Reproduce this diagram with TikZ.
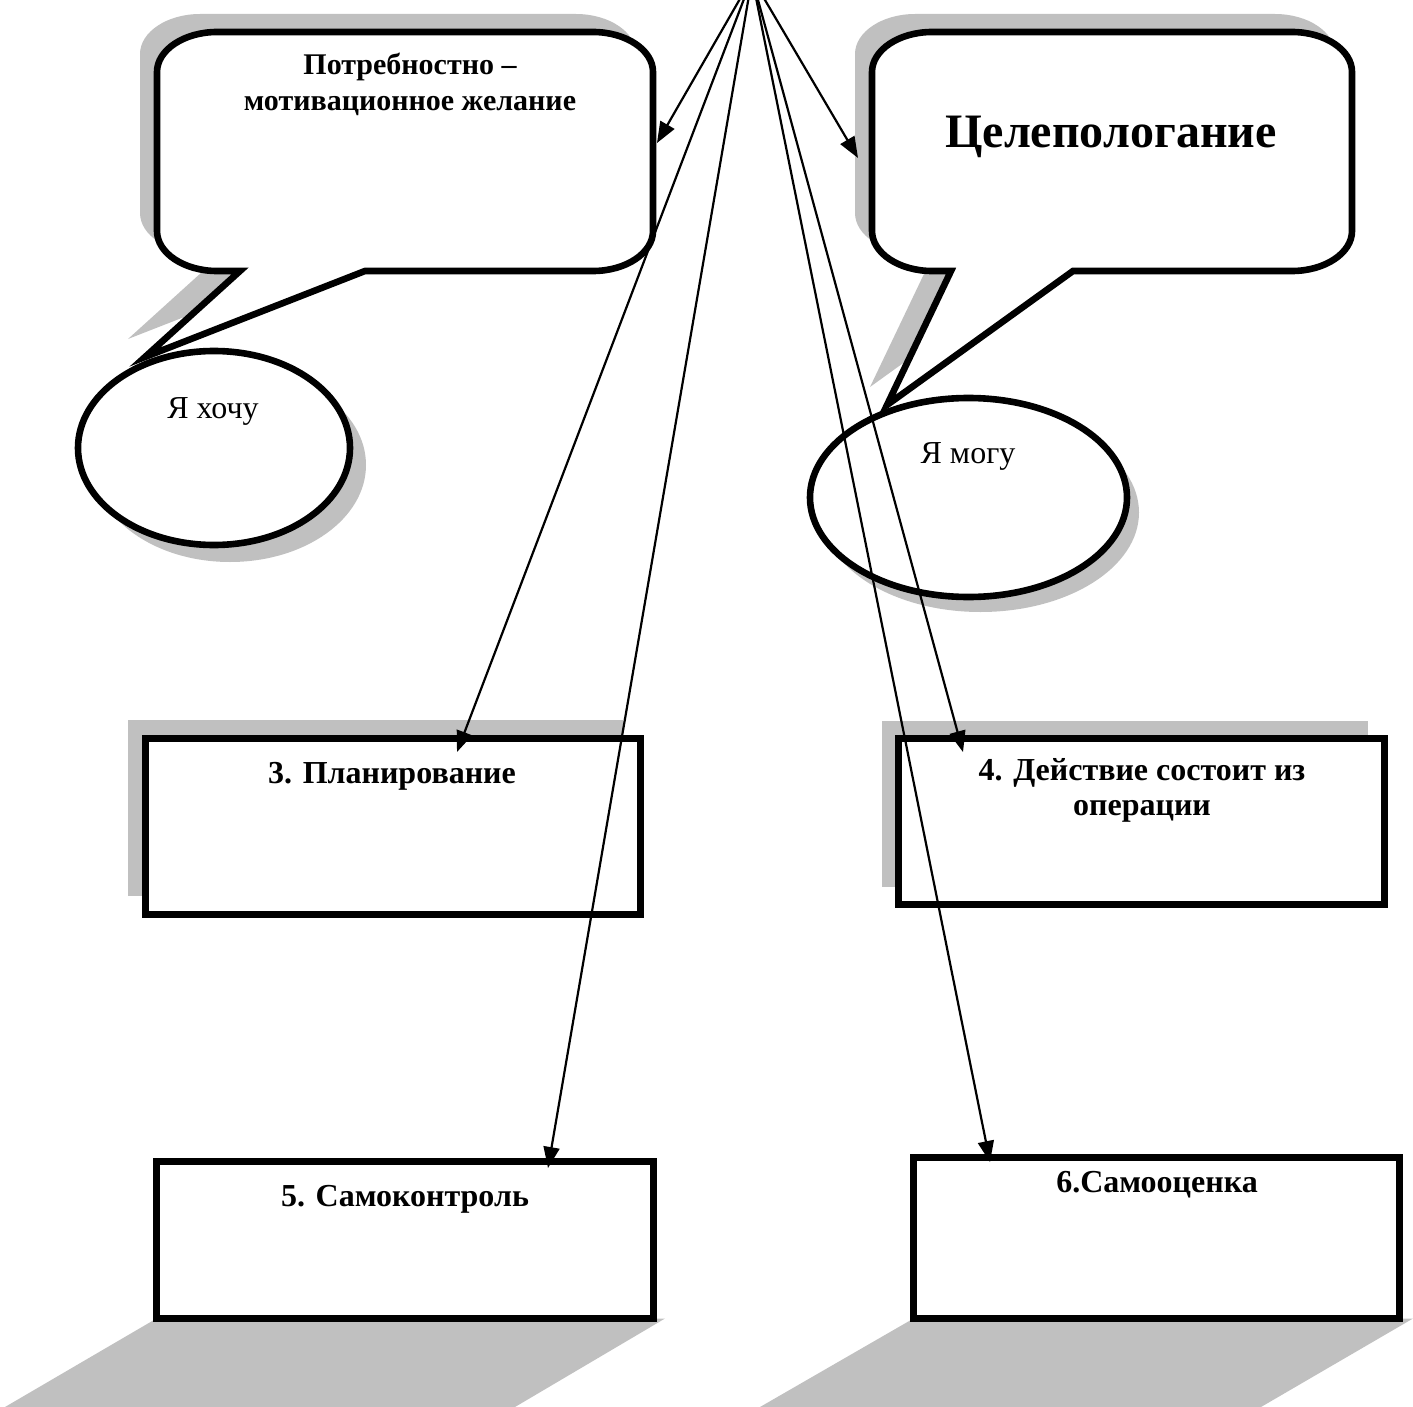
\documentclass[tikz,border=0pt]{standalone}
\usepackage{fontspec}
\setmainfont{Liberation Serif}
\usetikzlibrary{arrows.meta,shapes.geometric,shadows}
\definecolor{sgray}{HTML}{C0C0C0}
\newcommand\calloutLeft[1]{\path[#1] (157,72) -- (157,231) .. controls (157,253) and (184,271) .. (217,271) -- (240,271) -- (145,357) -- (365,271) -- (593,271) .. controls (626,271) and (653,253) .. (653,231) -- (653,72) .. controls (653,50) and (626,32) .. (593,32) -- (217,32) .. controls (184,32) and (157,50) .. (157,72) -- cycle;}
\newcommand\calloutRight[1]{\path[#1] (872,72) -- (872,231) .. controls (872,253) and (899,271) .. (932,271) -- (951,271) -- (887,405) -- (1073,271) -- (1292,271) .. controls (1325,271) and (1352,253) .. (1352,231) -- (1352,72) .. controls (1352,50) and (1325,32) .. (1292,32) -- (932,32) .. controls (899,32) and (872,50) .. (872,72) -- cycle;}
\begin{document}
\begin{tikzpicture}[x=0.5pt,y=-0.5pt,
  outl/.style={draw=black, line width=3.3pt, fill=white},
  shadowfill/.style={fill=sgray},
  boxstyle/.style={rectangle, draw=black, line width=3.5pt, fill=white, inner sep=0pt, outer sep=0pt, anchor=north west},
  ellstyle/.style={ellipse, draw=black, line width=3.3pt, fill=white, inner sep=0pt, outer sep=0pt},
  conn/.style={line width=1.1pt, -{Triangle[length=10.5pt,width=8pt]}},
  calltxt/.style={font=\bfseries\fontsize{15}{18}\selectfont, align=center, inner sep=0pt, anchor=base},
  boxtxt/.style={font=\bfseries\fontsize{16}{17.5}\selectfont, align=center, inner sep=0pt, anchor=base},
  big/.style={font=\bfseries\fontsize{24}{28}\selectfont, inner sep=0pt, anchor=base},
  plain/.style={font=\fontsize{16}{19}\selectfont, inner sep=0pt, anchor=base},
  topshadow/.style={drop shadow={fill=sgray, opacity=1, shadow xshift=-8.5pt, shadow yshift=9pt}}
]
\useasboundingbox (0,0) rectangle (1413,1407);
\clip (0,0) rectangle (1413,1407);

% ellipses
\node[ellstyle, minimum width=136pt, minimum height=97pt,
  drop shadow={fill=sgray, opacity=1, shadow xshift=8pt, shadow yshift=-8.5pt}] (elL) at (214,448) {};
\node[ellstyle, minimum width=158.5pt, minimum height=99.5pt,
  drop shadow={fill=sgray, opacity=1, shadow xshift=6pt, shadow yshift=-7.5pt}] (elR) at (968.5,497.5) {};

% callouts
\calloutLeft{shadowfill, shift={(-17,-18)}}
\calloutLeft{outl}
\calloutRight{shadowfill, shift={(-17,-18)}}
\calloutRight{outl}

% boxes
\node[boxstyle, topshadow, minimum width=247.5pt, minimum height=88pt] (b3) at (145,738) {};
\node[boxstyle, topshadow, minimum width=243pt, minimum height=83pt] (b4) at (898.5,738.5) {};
\fill[sgray] (156.5,1318.5) -- (665,1318.5) -- (515,1407) -- (5,1407) -- cycle;
\fill[sgray] (913.5,1318.5) -- (1413,1318.5) -- (1261,1407) -- (760,1407) -- cycle;
\node[boxstyle, minimum width=248.5pt, minimum height=78.5pt] (b5) at (156.5,1161.5) {};
\node[boxstyle, minimum width=243pt, minimum height=80.5pt] (b6) at (913.5,1157) {};

% texts
\node[calltxt] (tL) at (410,111) {Потребностно –\\мотивационное желание};
\node[big] (tR) at (1111,148) {Целепологание};
\node[plain] (tEL) at (213,418) {Я хочу};
\node[plain] (tER) at (968,463) {Я могу};
\node[boxtxt] (t3) at (392,783) {3. Планирование};
\node[boxtxt] (t4) at (1142,815) {4. Действие состоит из\\операции};
\node[boxtxt] (t5) at (405,1206) {5. Самоконтроль};
\node[boxtxt] (t6) at (1157,1192) {6.Самооценка};

% connectors
\coordinate (src) at (752,-22);
\coordinate (aL) at (657,143);
\coordinate (aR) at (858,158);
\coordinate (a3) at (457,752);
\coordinate (a4) at (963,752);
\coordinate (a5) at (548,1168);
\coordinate (a6) at (990,1162);
\foreach \t in {aL,aR,a3,a4,a5,a6}
  \draw[conn] (src) -- (\t);
\end{tikzpicture}
\end{document}
